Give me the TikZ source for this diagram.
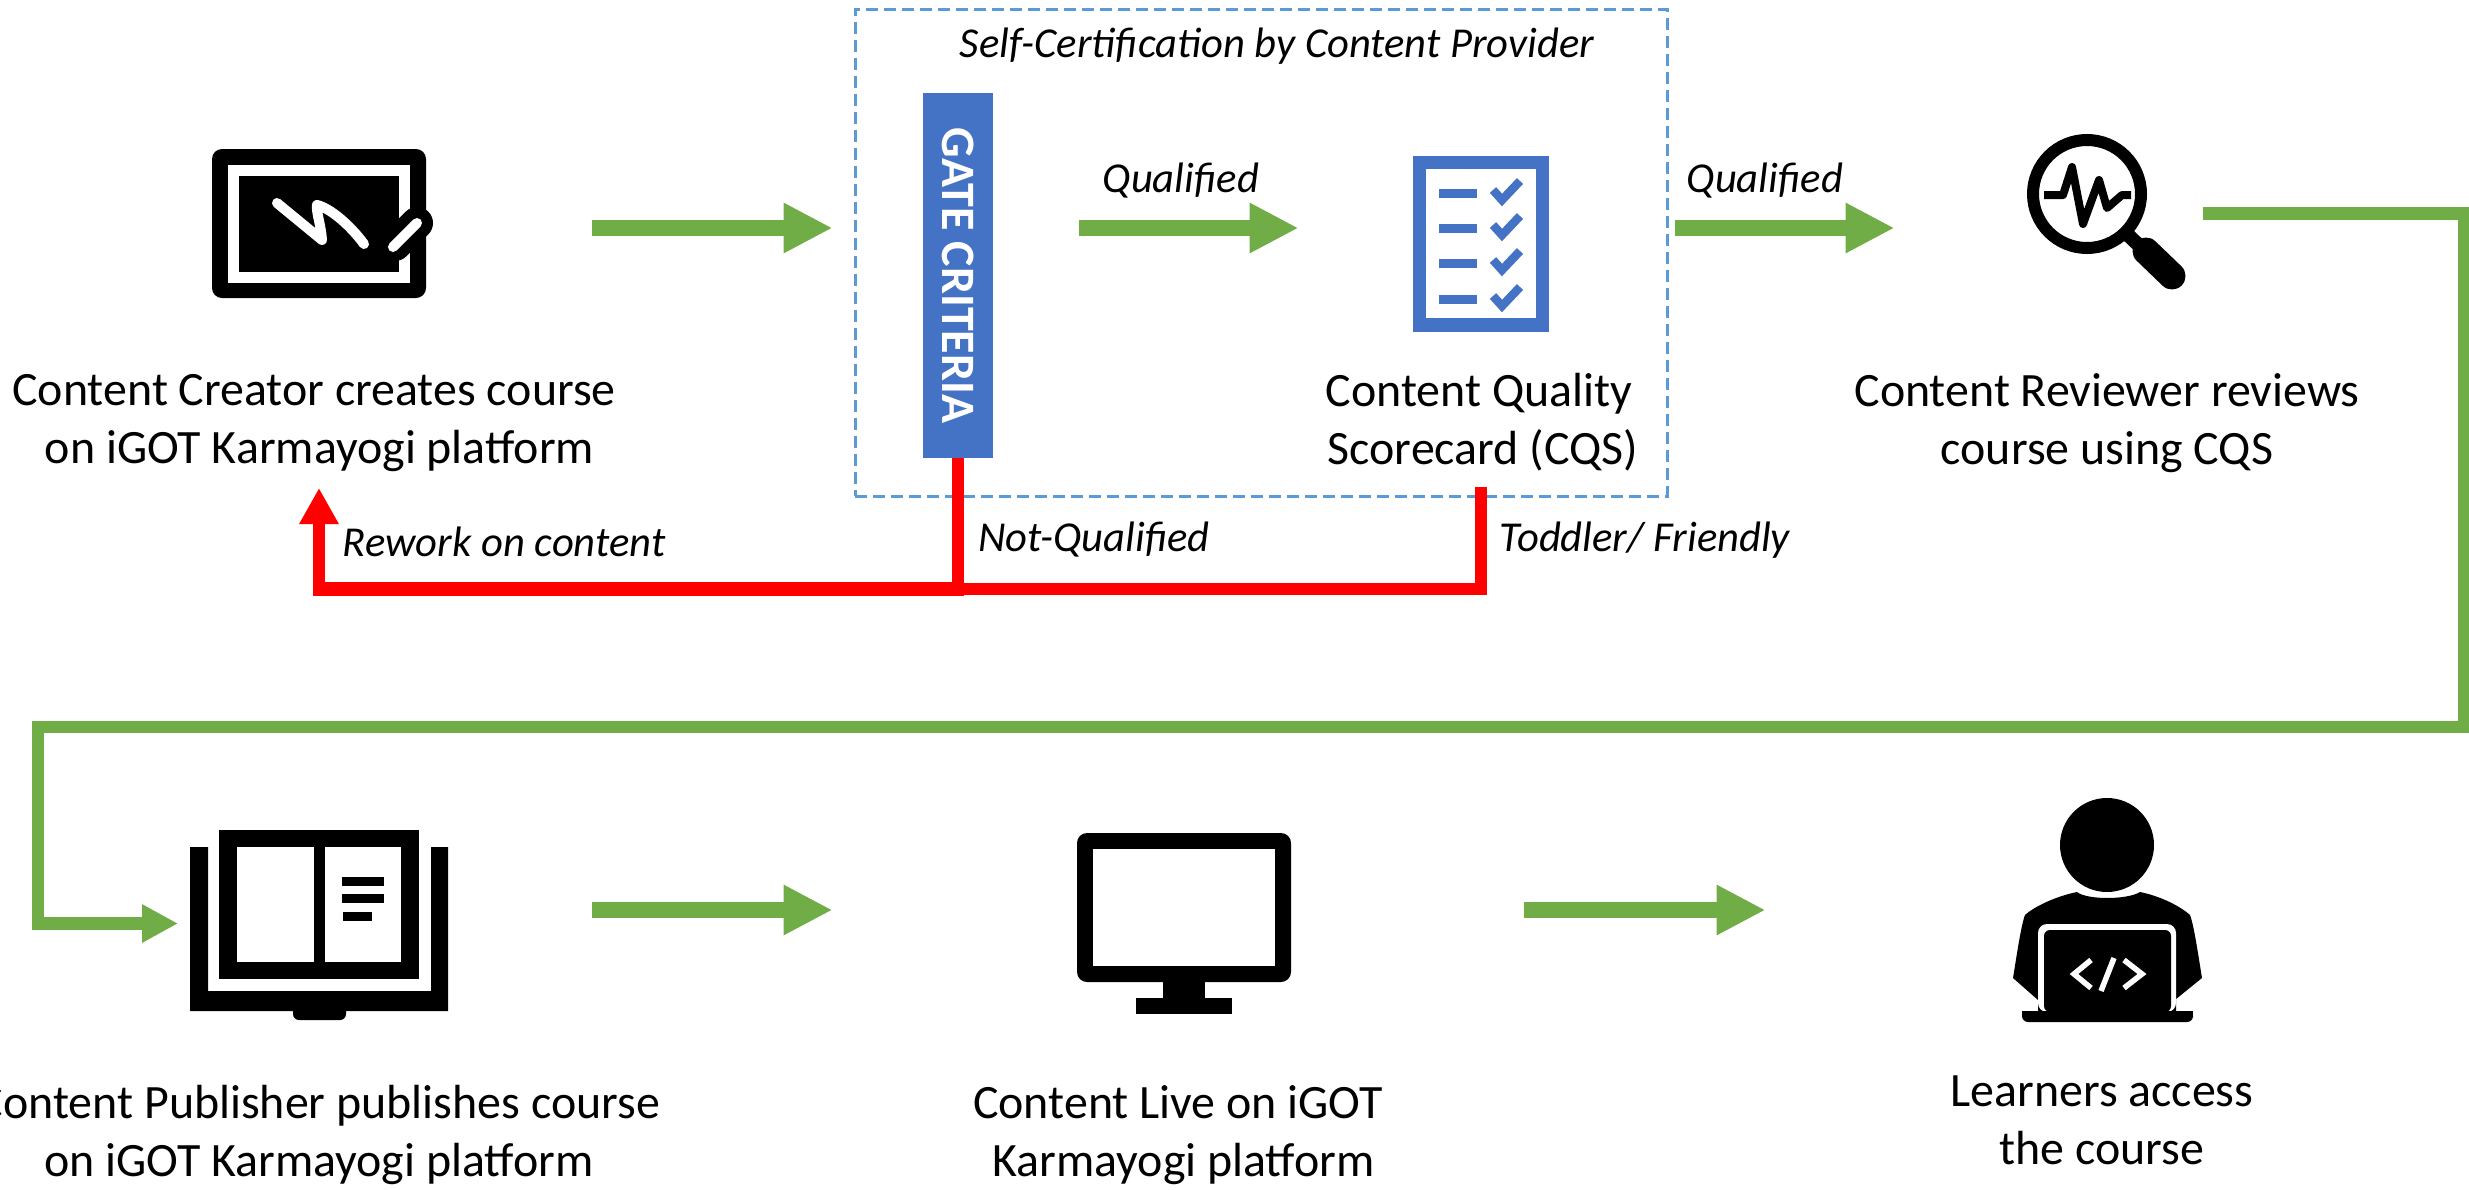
\documentclass[tikz,border=0pt]{standalone}
\usepackage{graphicx}
\usepackage{fontspec}
\setmainfont{Carlito}
\usetikzlibrary{arrows.meta}
\definecolor{grn}{HTML}{70AD47}
\definecolor{blu}{HTML}{4472C4}
\definecolor{dashblu}{HTML}{5B9BD5}
\tikzset{
  greenarrow/.style={draw=grn,line width=16pt,-{Triangle[length=49pt,width=47pt,fill=grn]}},
  greenbent/.style={draw=grn,line width=12.5pt,miter limit=10,-{Triangle[length=36pt,width=36pt,fill=grn]}},
  redline/.style={draw=red,line width=12pt},
  redarrow/.style={draw=red,line width=12pt,-{Triangle[length=36pt,width=37pt,fill=red]}},
  lbl/.style={align=center,inner sep=0pt,font=\fontsize{47.9}{58}\selectfont},
  note/.style={inner sep=0pt,font=\fontsize{42.6}{50}\selectfont\itshape},
  iconbox/.style={inner sep=0pt,draw=none},
}
\begin{document}
\begin{tikzpicture}[x=1pt,y=-1pt]
\useasboundingbox (0,0) rectangle (2469,1189);
% dashed certification box
\node[draw=dashblu,line width=3pt,dash pattern=on 12pt off 6pt,minimum width=812pt,minimum height=487pt,inner sep=0pt] (cert) at (1261,252.5) {};
% tablet
\node[iconbox,minimum width=214pt,minimum height=149pt] (tablet) at (319,223.5) {};
\fill[black,rounded corners=10pt] (212,149) rectangle (426,298);
\fill[white] (228,165) rectangle (410,283);
\fill[black] (239,176) rectangle (399,272);
\draw[white,line width=10pt,line cap=round,line join=round] (277,203) -- (322,240) .. controls (321,225) and (316,212) .. (317,205) .. controls (330,208) and (350,225) .. (364,244);
\draw[black,line width=32pt,line cap=round] (395,245) -- (417,223);
\draw[white,line width=10pt,line cap=round] (393,247) -- (417,223);
% gate
\node[fill=blu,minimum width=70pt,minimum height=365pt,inner sep=0pt,text=white,font=\fontsize{48}{50}\selectfont\bfseries] (gate) at (958,275.5) {\rotatebox{-90}{GATE CRITERIA}};
% scorecard
\node[iconbox,minimum width=136pt,minimum height=176pt] (score) at (1481,244) {};
\fill[blu] (1413,156) rectangle (1549,332);
\fill[white] (1426,169) rectangle (1536,318);
\foreach \d in {0,35,70,106}{
  \fill[blu] (1439,188.5+\d) rectangle (1477,197.5+\d);
  \draw[blu,line width=8.5pt,miter limit=10] (1493,190+\d) -- (1502,200+\d) -- (1520,181+\d);
}
% magnifier
\node[iconbox,minimum width=150pt,minimum height=170pt] (lens) at (2107,209) {};
\draw[black,line width=12pt] (2087,194) circle[radius=54];
\draw[black,line width=8pt,line join=round] (2044,195) -- (2063,195) -- (2072,167) -- (2083,224) -- (2099,180) -- (2107,208) -- (2122,195) -- (2131,195);
\draw[black,line width=14pt] (2127,234) -- (2150,256);
\draw[black,line width=27pt,line cap=round] (2146,251) -- (2172,276);
% book
\node[iconbox,minimum width=258pt,minimum height=190pt] (book) at (319,925) {};
\fill[black] (190,847) -- (208,847) -- (208,991) -- (431,991) -- (431,847) -- (448,847) -- (448,1011) -- (190,1011) -- cycle;
\fill[black,rounded corners=6pt] (293,1005) rectangle (346,1020);
\fill[black] (219,830) rectangle (419,979);
\fill[white] (237,847) rectangle (314,962);
\fill[white] (325,847) rectangle (401,962);
\fill[black] (342,877) rectangle (384,886);
\fill[black] (342,894) rectangle (384,903);
\fill[black] (343,912) rectangle (372,921);
% monitor
\node[iconbox,minimum width=214pt,minimum height=181pt] (monitor) at (1184,923.5) {};
\fill[black,rounded corners=10pt] (1077,833) rectangle (1291,982);
\fill[white] (1093,849) rectangle (1275,966);
\fill[black] (1163,980) rectangle (1205,999);
\fill[black] (1136,998) rectangle (1232,1014);
% learner
\node[iconbox,minimum width=190pt,minimum height=222pt] (learner) at (2107,909) {};
\fill[black] (2107,845) circle[radius=47];
\fill[black] (2077,892) .. controls (2087,900) and (2127,900) .. (2140,892) .. controls (2160,896) and (2180,906) .. (2190,915) .. controls (2194,925) and (2199,960) .. (2202,978) -- (2176,999) -- (2176,1015) -- (2038,1015) -- (2038,1000) -- (2013,978) .. controls (2016,960) and (2021,925) .. (2025,915) .. controls (2035,906) and (2057,896) .. (2077,892) -- cycle;
\fill[white,rounded corners=9pt] (2038,1012) -- (2038,924) -- (2176,924) -- (2176,1012) -- cycle;
\fill[black,rounded corners=6pt] (2044,1012) -- (2044,930) -- (2171,930) -- (2171,1012) -- cycle;
\fill[black,rounded corners=6pt] (2022,1011) -- (2022,1022) -- (2193,1022) -- (2193,1011) -- cycle;
\fill[black] (2022,1011) rectangle (2193,1016);
\draw[white,line width=5.5pt] (2091,960) -- (2074,974) -- (2091,988);
\draw[white,line width=5.5pt] (2124,960) -- (2142,974) -- (2124,988);
\draw[white,line width=5.5pt] (2114,958) -- (2101,991);
% connector end points
\coordinate (a1s) at (592,228);
\coordinate (a1e) at (832.5,228);
\coordinate (a2s) at (1079,228);
\coordinate (a2e) at (1298.5,228);
\coordinate (a3s) at (1675,228);
\coordinate (a3e) at (1894.5,228);
\coordinate (b1s) at (2203,213.5);
\coordinate (b1a) at (2464,213.5);
\coordinate (b1b) at (2464,727);
\coordinate (b1c) at (38,727);
\coordinate (b1d) at (38,923.5);
\coordinate (b1e) at (178,923.5);
\coordinate (a5s) at (592,910);
\coordinate (a5e) at (832.5,910);
\coordinate (a6s) at (1524,910);
\coordinate (a6e) at (1765.5,910);
\coordinate (r1) at (1481,487);
\coordinate (r2) at (1481,589);
\coordinate (rj) at (958,589);
\coordinate (r3) at (319,589);
\coordinate (r4) at (319,488);
% green connectors
\draw[greenarrow] (a1s) -- (a1e);
\draw[greenarrow] (a2s) -- (a2e);
\draw[greenarrow] (a3s) -- (a3e);
\draw[greenbent] (b1s) -- (b1a) -- (b1b) -- (b1c) -- (b1d) -- (b1e);
\draw[greenarrow] (a5s) -- (a5e);
\draw[greenarrow] (a6s) -- (a6e);
% red connectors
\draw[redline,miter limit=10] (r1) -- (r2) -- (rj);
\draw[redline] (gate.south) -- ([yshift=7pt]rj);
\draw[draw=red,line width=14pt] ([xshift=6pt]rj) -- ([xshift=-6pt]r3);
\draw[redarrow] ([yshift=7pt]r3) -- (r4);
% labels
\node[lbl] (tcreator) at (314,423.5) {Content Creator creates course\\\hspace*{11pt}on iGOT Karmayogi platform};
\node[lbl] (tscore) at (1479,422.5) {Content Quality\\\hspace*{8pt}Scorecard (CQS)};
\node[lbl] (treview) at (2107,423.5) {Content Reviewer reviews\\course using CQS};
\node[lbl] (tpublish) at (319,1135) {Content Publisher publishes course\\on iGOT Karmayogi platform};
\node[lbl] (tlive) at (1178,1135) {Content Live on iGOT\\\hspace*{11pt}Karmayogi platform};
\node[lbl] (tlearn) at (2102,1120.5) {Learners access\\the course};
\node[note] (tself) at (1277,46) {Self-Certification by Content Provider};
\node[note] (tq1) at (1181,181) {Qualified};
\node[note] (tq2) at (1765,181) {Qualified};
\node[note] (trework) at (504,542) {Rework on content};
\node[note] (tnot) at (1094,540) {Not-Qualified};
\node[note] (ttod) at (1645,540) {Toddler/ Friendly};
\end{tikzpicture}
\end{document}
